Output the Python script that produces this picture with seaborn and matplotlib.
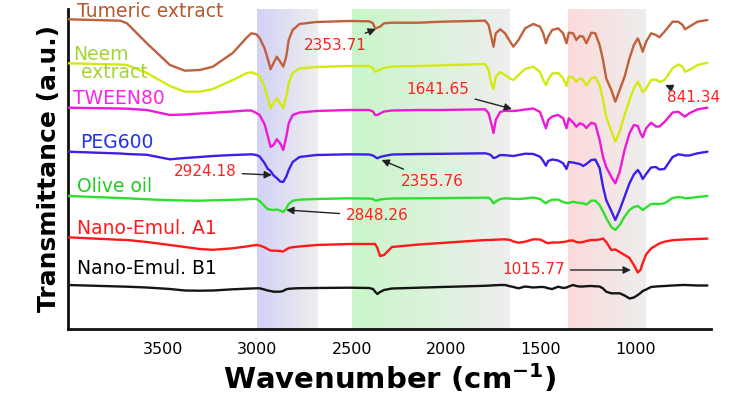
import numpy as np
import pandas as pd
import matplotlib
matplotlib.use("Agg")
import matplotlib.pyplot as plt
from matplotlib.colors import LinearSegmentedColormap
import seaborn as sns

# ---------------- data ----------------
wavenumber = [4000, 3724, 3688, 3583, 3461, 3382, 3303, 3234, 3129, 3057, 3031, 3004, 2987, 2961,
              2945, 2929, 2913, 2896, 2878, 2862, 2846, 2833, 2812, 2776, 2688, 2513, 2408, 2387,
              2376, 2364, 2350, 2329, 2287, 2145, 2024, 1794, 1776, 1762, 1750, 1738, 1715, 1689,
              1662, 1645, 1618, 1583, 1540, 1504, 1487, 1473, 1461, 1440, 1408, 1382, 1364, 1352,
              1329, 1312, 1294, 1276, 1259, 1233, 1212, 1189, 1171, 1154, 1127, 1106, 1083, 1057,
              1031, 1008, 987, 973, 961, 943, 917, 891, 873, 846, 803, 773, 750, 738, 715, 671, 619]

tumeric = [309.7, 308.3, 305.7, 285.7, 264, 258.3, 259, 262.3, 276, 291, 295.7, 294.7, 291, 281,
           271, 259.7, 266, 272.3, 267.3, 262.3, 272.3, 289, 299, 305, 307, 308, 307.7, 305.7,
           300.3, 301.3, 302.3, 305.7, 306.3, 306.3, 307.3, 308.3, 304, 292.3, 282.3, 295.7, 299.7, 295.7,
           287.3, 282.3, 289, 300.7, 305, 302.3, 295.7, 285.7, 292.3, 299, 300.7, 295.7, 285.7, 296.3,
           295.7, 289, 293, 292.3, 285.7, 296.3, 295.7, 284, 269, 250.7, 239, 227.3, 239, 252.3,
           270.7, 284, 290.7, 284, 277.3, 287.3, 295.7, 294, 291.7, 297.3, 307.3, 307.3, 304, 299.7, 302.3, 307.3, 309]

neem = [265.7, 264.5, 264, 256, 243, 237.3, 237.3, 240, 249, 255.7, 256.7, 255, 253, 242,
        232, 220.7, 225.7, 230.7, 225.7, 220.7, 232.3, 246, 256, 260.5, 262, 263, 263, 260.7,
        257.3, 258, 259.3, 261, 262.5, 263, 263.7, 265, 259, 245.7, 240, 252.3, 257, 254,
        250.5, 249, 254, 260, 262.3, 257, 249, 244, 249, 255.5, 256, 250.7, 243, 252.3,
        251.3, 247.3, 250.7, 249, 243.5, 250.7, 251.7, 244, 229, 212, 198, 187.3, 197.3, 214,
        229, 240.7, 247.3, 242, 237, 240.5, 249, 249.5, 247, 249, 260.7, 264.5, 262.3, 257.3, 259, 264, 266.3]

tween80 = [221.3, 220.5, 220.3, 219, 214, 214.5, 215.5, 216.3, 217.5, 218.5, 218.5, 216, 214, 205,
           194, 182, 184, 189.7, 185.7, 179, 192, 205.7, 214, 216.5, 218, 219, 219, 217.5,
           214, 214, 215.5, 217.5, 218.5, 219, 219, 219.7, 215.7, 205.7, 196, 209, 217, 218.3,
           218, 218, 218.5, 219.5, 220.5, 217, 208, 200.7, 209, 212.5, 214, 210.7, 200.7, 210.7,
           206.5, 202.3, 205.7, 204.5, 201, 206.3, 205, 189, 172, 162, 152, 145.7, 157, 179,
           195.7, 204, 203, 195.7, 191.7, 200.7, 206.3, 202.5, 202.5, 207, 216.5, 217.3, 214, 212.3, 215.7, 219.7, 221.3]

peg600 = [177.3, 175.5, 175, 174.2, 169.7, 171, 172, 173, 174, 174.5, 174.7, 174, 172.5, 166,
          160.5, 158, 153.5, 151, 147.5, 147, 152.3, 159, 167, 172, 174, 174.7, 174.5, 173.5,
          172, 170.7, 172, 173, 174.5, 175, 175.2, 175.7, 175, 173.5, 171, 171.5, 174, 173.8,
          173.3, 173, 174, 175.3, 175, 172.3, 168, 163.3, 168, 169.5, 168.5, 165.7, 160, 167,
          166.5, 165.7, 165, 163, 165, 169, 169.5, 161, 142.3, 129, 118, 109, 119, 132.3,
          145.7, 154.5, 159, 155, 150, 155, 161.5, 162, 159.5, 160, 172, 174.7, 174, 173.5, 173.5, 175.7, 177.3]

olive_oil = [133, 131, 130.7, 129.7, 128.8, 128.5, 128.3, 128.7, 129.2, 129.7, 130, 130, 128, 123,
             120, 119.3, 119, 119.5, 118.5, 117, 120.5, 125, 128.3, 129.3, 130, 130.7, 130.4, 130,
             128.5, 128.5, 129.5, 130, 130.5, 130.7, 130.9, 131.3, 131.3, 129, 125.5, 127.5, 130, 130.7,
             130.4, 130.2, 130, 130.5, 131.5, 130, 127.5, 125.7, 127.5, 129.3, 129.4, 127, 126, 126,
             127.3, 126.5, 126, 125.7, 124.5, 128.3, 128.3, 124, 117.5, 111, 102, 99, 104, 112.3,
             119, 122, 123, 121, 119, 121.5, 125, 125.2, 125, 125.7, 131, 132, 131.5, 130.7, 131, 132, 133]

nano_a1 = [91.7, 89.2, 89, 87, 84, 82, 80, 79.2, 80.7, 82.5, 83.3, 84, 83.5, 81.7,
           80, 78.5, 78.3, 78.3, 78, 77.5, 79.5, 81, 81.8, 82.5, 84, 85, 85, 85,
           85, 81, 73, 74, 82, 84.5, 86, 89, 89, 89, 89.2, 89.3, 89.5, 89.7,
           89, 87.5, 86.3, 87.3, 89.7, 89.5, 88, 86.5, 85.7, 86.5, 86.5, 87, 87.5, 88.3,
           88.5, 87, 86.5, 87, 88, 89, 89, 89.5, 90.5, 87, 79, 79.5, 77, 74,
           71, 64, 56.5, 59, 66, 74.5, 80.5, 83.5, 85.5, 87.3, 88.8, 89.2, 89.4, 89.5, 89.7, 90, 90.4]

nano_b1 = [44, 42.5, 42.3, 41.5, 40, 38.5, 38.3, 38.5, 39.7, 40.3, 40.5, 40.7, 40.7, 39.5,
           38.5, 38, 37.3, 37.3, 37.3, 38, 39.7, 40.2, 40.5, 40.8, 41, 41.3, 41, 40,
           37.3, 35, 37, 39, 40.5, 41.3, 42, 43.2, 43.4, 43.5, 43.7, 43.8, 44, 44,
           42.7, 42, 40.7, 42.5, 41.5, 42, 42, 41.5, 40.7, 40, 42.3, 41, 41.5, 42.5,
           44, 43, 42.5, 42.5, 42.8, 43, 42.7, 42.5, 40.5, 37.3, 35.7, 35.7, 35.7, 33.5,
           30.5, 31.5, 34, 36, 38, 39.5, 42, 42.5, 42.7, 43, 43.5, 43.8, 44, 44, 43.8, 43.5, 43.5]

samples = ["Tumeric extract", "Neem extract", "TWEEN80", "PEG600", "Olive oil",
           "Nano-Emul. A1", "Nano-Emul. B1"]
series = [tumeric, neem, tween80, peg600, olive_oil, nano_a1, nano_b1]
line_colors = ["#C0603C", "#D2EA10", "#EE18D8", "#3A20E8", "#2EE02E", "#FF1A1A", "#151515"]

# labels: (text, wavenumber, transmittance, color)
label_text = ["Tumeric extract", "Neem", "extract", "TWEEN80", "PEG600", "Olive oil",
              "Nano-Emul. A1", "Nano-Emul. B1"]
label_wn = [3950, 3971, 3929, 3976, 3934, 3950, 3950, 3950]
label_val = [317.5, 275, 256, 231, 187, 143, 101, 60]
label_colors = ["#B5572F", "#A2D43A", "#A2D43A", "#FF22EE", "#2030F0", "#22CC22", "#FF1A1A", "#000000"]

# peak annotations: text, text position, arrow tip
peak_text = ["2353.71", "1641.65", "841.34", "2924.18", "2355.76", "2848.26", "1015.77"]
peak_text_wn = [2587, 2045, 692, 3276, 2076, 2366, 1540]
peak_text_val = [284, 240, 231, 157, 148, 113, 59]
peak_tip_wn = [2372, 1652, 842, 2922, 2342, 2846, 1024]
peak_tip_val = [300, 220, 244, 154, 169, 119, 59]

# shaded bands: (start, end, start colour)
band_start = [3000, 2500, 1355]
band_end = [2680, 1666, 945]
band_colors = ["#D2D2F7", "#C9F6C9", "#FCDADA"]
band_end_color = "#EEEEEE"

# ---------------- figure ----------------
sns.set_style("white")
plt.rcParams["font.family"] = ["DejaVu Sans"]
plt.rcParams["text.color"] = "black"
plt.rcParams["axes.labelcolor"] = "black"

W, H = 730, 395
fig = plt.figure(figsize=(W / 100, H / 100), dpi=100)
ax = fig.add_axes([68 / W, 1 - 329 / H, (711 - 68) / W, (329 - 9) / H])

ylo, yhi = 0, 320

for s0, s1, c in zip(band_start, band_end, band_colors):
    cmap = LinearSegmentedColormap.from_list("g", [c, band_end_color])
    grad = np.linspace(0, 1, 256).reshape(1, -1)
    ax.imshow(grad, cmap=cmap, extent=(s0, s1, ylo, yhi), aspect="auto",
              interpolation="bicubic", zorder=0)

rows = []
for name, vals in zip(samples, series):
    for w, v in zip(wavenumber, vals):
        rows.append((name, w, v))
df = pd.DataFrame(rows, columns=["sample", "wavenumber", "T"])

sns.lineplot(data=df, x="wavenumber", y="T", hue="sample", palette=dict(zip(samples, line_colors)),
             estimator=None, sort=False, legend=False, linewidth=1.7, ax=ax, zorder=3)

ax.set_xlim(4000, 600)
ax.set_ylim(ylo, yhi)

for t, w, v, c in zip(label_text, label_wn, label_val, label_colors):
    ax.text(w, v, t, color=c, fontsize=13.5, ha="left", va="center", zorder=5)

for t, tw, tv, pw, pv in zip(peak_text, peak_text_wn, peak_text_val, peak_tip_wn, peak_tip_val):
    ax.annotate(t, xy=(pw, pv), xytext=(tw, tv), color="#FF2020", fontsize=11,
                ha="center", va="center", zorder=6,
                arrowprops=dict(arrowstyle="-|>", color="#222222", lw=1.0,
                                mutation_scale=11, shrinkA=2, shrinkB=0))

# axes styling
for side in ["top", "right"]:
    ax.spines[side].set_visible(False)
for side in ["left", "bottom"]:
    ax.spines[side].set_linewidth(2.0)
    ax.spines[side].set_color("#111111")

ax.set_xticks([3500, 3000, 2500, 2000, 1500, 1000])
ax.set_xticklabels(["3500", "3000", "2500", "2000", "1500", "1000"])
ax.set_xticks([3750, 3250, 2750, 2250, 1750, 1250, 750], minor=True)
ax.tick_params(axis="x", which="major", length=0, pad=9, labelsize=11.5, colors="black")
ax.tick_params(axis="x", which="minor", length=4, width=1.5, direction="out", colors="#111111")
ax.set_yticks(21 + 22.23 * np.arange(14))
ax.tick_params(axis="y", which="major", length=5, width=1.5, direction="out",
               labelleft=False, colors="#111111")

ax.set_xlabel(r"Wavenumber (cm$^{\mathbf{-1}}$)", fontsize=21, fontweight="bold",
              labelpad=4, color="black")
ax.set_ylabel("Transmittance (a.u.)", fontsize=18, fontweight="bold", labelpad=5, color="black")
ax.grid(False)

fig.savefig("out.png", dpi=100)
